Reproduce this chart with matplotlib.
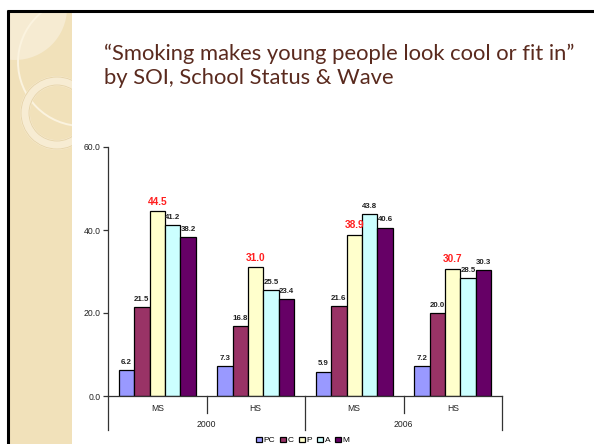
import matplotlib
matplotlib.use("Agg")
import matplotlib.pyplot as plt
from matplotlib.patches import Rectangle, Circle
from matplotlib.transforms import blended_transform_factory
import numpy as np

# ---- data ----
groups = ["MS", "HS", "MS", "HS"]
years = ["2000", "2006"]
series = ["PC", "C", "P", "A", "M"]
pc = [6.2, 7.3, 5.9, 7.2]
c = [21.5, 16.8, 21.6, 20.0]
p = [44.5, 31.0, 38.9, 30.7]
a = [41.2, 25.5, 43.8, 28.5]
m = [38.2, 23.4, 40.6, 30.3]
yticks = [0.0, 20.0, 40.0, 60.0]
colors = ["#9999FF", "#993366", "#FFFFCC", "#CCFFFF", "#660066"]
title = "\u201cSmoking makes young people look cool or fit in\u201d\nby SOI, School Status & Wave"

W, H = 594, 444
fig = plt.figure(figsize=(W / 100, H / 100), dpi=100)

# ---- slide background ----
bg = fig.add_axes([0, 0, 1, 1], zorder=0)
bg.set_xlim(0, W)
bg.set_ylim(H, 0)
bg.axis("off")
strip = Rectangle((9, 11), 63, H, facecolor="#F1E1BA", edgecolor="none")
bg.add_patch(strip)
c1 = Circle((15, 8), 52, facecolor="#F6EBD2", edgecolor="none")
c2 = Circle((82, 62), 64, facecolor="none", edgecolor="#FBF3DF", lw=1.4)
c3 = Circle((57, 113), 32, facecolor="none", edgecolor="#F7ECD3", lw=7)
c3b = Circle((57, 113), 36, facecolor="none", edgecolor="#E6D3A8", lw=0.6)
c3c = Circle((57, 113), 28, facecolor="none", edgecolor="#E6D3A8", lw=0.6)
for patch in (c1, c2, c3, c3b, c3c):
    bg.add_patch(patch)
    patch.set_clip_path(strip)
bg.plot([7, W], [11, 11], color="black", lw=2.2, solid_capstyle="butt")
bg.plot([8, 8], [10, H], color="black", lw=2.2, solid_capstyle="butt")

fig.text(104 / W, 1 - 44 / H, title, ha="left", va="top", fontsize=15.8,
         family="Lato", color="#5A2A1E", linespacing=1.2)

# ---- chart ----
ax = fig.add_axes([108 / W, 1 - 396 / H, (502 - 108) / W, (396 - 147) / H], zorder=2)
ax.patch.set_alpha(0)
vals = [pc, c, p, a, m]
x = np.arange(len(groups))
bw = 0.157
for i, (name, v, col) in enumerate(zip(series, vals, colors)):
    xs = x + (i - 2) * bw
    ax.bar(xs, v, bw, color=col, edgecolor="black", linewidth=0.9, label=name)
    for xi, vi in zip(xs, v):
        if name == "P":
            ax.annotate(f"{vi:.1f}", (xi, vi), xytext=(0, 3), textcoords="offset points",
                        ha="center", va="bottom", fontsize=7.3, fontweight="bold",
                        color="#FF2020", family="Liberation Sans")
        else:
            ax.annotate(f"{vi:.1f}", (xi, vi), xytext=(0, 3), textcoords="offset points",
                        ha="center", va="bottom", fontsize=5.7, fontweight="bold",
                        color="#222222", family="Liberation Sans")

ax.set_xlim(-0.5, len(groups) - 0.5)
ax.set_ylim(0, 60)
ax.set_yticks(yticks)
ax.set_yticklabels([f"{t:.1f}" for t in yticks], fontsize=6.2, family="Liberation Sans", color="#222222")
ax.tick_params(axis="y", direction="out", length=3.5, width=0.9, color="#333333", pad=2)
ax.set_xticks([])
for s in ("top", "right"):
    ax.spines[s].set_visible(False)
for s in ("left", "bottom"):
    ax.spines[s].set_color("#333333")
    ax.spines[s].set_linewidth(0.9)

# hierarchical category axis
tr = blended_transform_factory(ax.transData, ax.transAxes)
ppu = 1.0 / (396 - 147)  # axes fraction per pixel
for b in np.arange(-0.5, len(groups), 1.0):
    long = int(round(b + 0.5)) % 2 == 0
    depth = 34 if long else 17
    ax.plot([b, b], [0, -depth * ppu], transform=tr, color="#333333", lw=0.9, clip_on=False)
for xi, g in zip(x, groups):
    ax.text(xi, -12 * ppu, g, transform=tr, ha="center", va="center", fontsize=6.2,
            family="Liberation Sans", color="#222222")
for k, yr in enumerate(years):
    ax.text(2 * k + 0.5, -28 * ppu, yr, transform=tr, ha="center", va="center", fontsize=6.2,
            family="Liberation Sans", color="#222222")

fig.legend(loc="upper center", bbox_to_anchor=(303 / W, 1 - 436.5 / H), ncol=5, frameon=False,
           prop={"family": "Liberation Sans", "size": 6}, handlelength=0.7, handleheight=0.7,
           handletextpad=0.2, columnspacing=0.6, borderpad=0, borderaxespad=0)

fig.savefig("out.png", dpi=100)
